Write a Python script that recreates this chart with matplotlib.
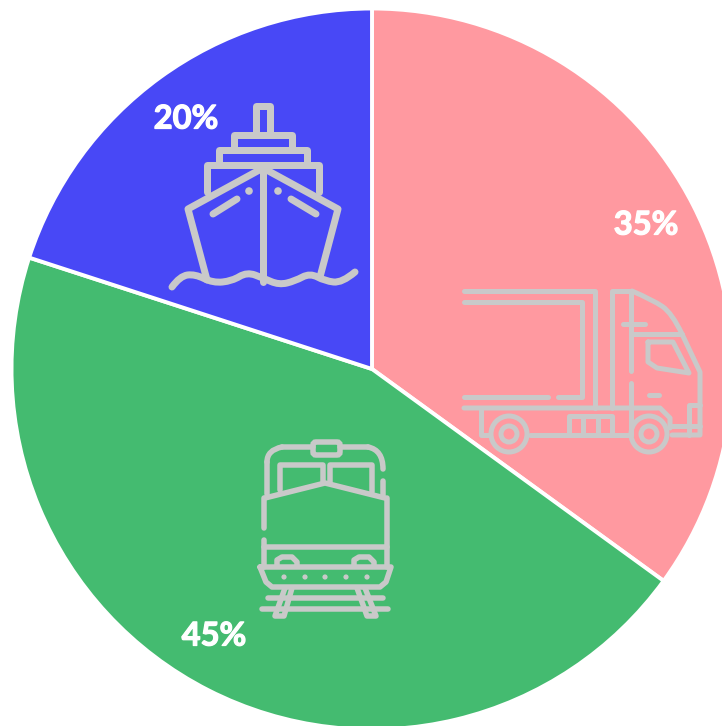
import matplotlib
matplotlib.use("Agg")
import matplotlib.pyplot as plt
from matplotlib.patches import Circle, FancyBboxPatch, PathPatch
from matplotlib.path import Path
import matplotlib.patheffects as pe

shares = [35, 45, 20]
share_labels = ["35%", "45%", "20%"]
slice_colors = ["#FF99A0", "#44BB70", "#4848F6"]

ICON_COLOR = "#C9C9C9"
WIDTH, HEIGHT = 722, 726


def stroke(ax, points, width, closed=False):
    """Straight polyline in pixel coordinates (y goes down)."""
    xs = [p[0] for p in points]
    ys = [p[1] for p in points]
    if closed:
        xs.append(xs[0])
        ys.append(ys[0])
    ax.plot(xs, ys, color=ICON_COLOR, lw=width * 0.72, solid_capstyle="round",
            solid_joinstyle="round")


def curve(ax, points, width):
    """Smooth line through the midpoints of the given control points."""
    verts = [points[0]]
    codes = [Path.MOVETO]
    for i in range(1, len(points) - 1):
        end = points[i + 1]
        if i < len(points) - 2:
            end = ((points[i][0] + points[i + 1][0]) / 2, (points[i][1] + points[i + 1][1]) / 2)
        verts += [points[i], end]
        codes += [Path.CURVE3, Path.CURVE3]
    ax.add_patch(PathPatch(Path(verts, codes), fill=False, edgecolor=ICON_COLOR,
                           lw=width * 0.72, capstyle="round", joinstyle="round"))


def dot(ax, x, y, radius):
    ax.add_patch(Circle((x, y), radius, color=ICON_COLOR, lw=0))


def ring(ax, x, y, radius, width):
    ax.add_patch(Circle((x, y), radius, fill=False, edgecolor=ICON_COLOR, lw=width * 0.72))


def draw_ship(ax):
    w = 7
    stroke(ax, [(256, 133), (256, 106), (270, 106), (270, 133)], w)
    stroke(ax, [(234, 150), (234, 135), (292, 135), (292, 150)], w)
    stroke(ax, [(219, 165), (219, 150), (307, 150), (307, 165)], w)
    stroke(ax, [(207, 192), (207, 165), (319, 165), (319, 192)], w)
    stroke(ax, [(207, 280), (188, 209), (263, 168), (338, 209), (320, 277)], w)
    stroke(ax, [(263, 168), (263, 282)], w)
    dot(ax, 249, 191, 3.8)
    dot(ax, 278, 191, 3.8)
    stroke(ax, [(213, 214), (237, 199)], w)
    stroke(ax, [(291, 199), (316, 214)], w)
    curve(ax, [(172, 287), (180, 276), (195, 274), (213, 283), (232, 281), (247, 272),
               (263, 278), (279, 285), (295, 281), (310, 273), (325, 281), (342, 283),
               (355, 272)], w)


def draw_truck(ax):
    w = 5
    stroke(ax, [(464, 291), (595, 291), (595, 408)], w)
    stroke(ax, [(464, 302), (582, 302), (582, 397), (558, 397)], w)
    stroke(ax, [(464, 397), (548, 397)], w)
    stroke(ax, [(464, 408), (660, 408), (670, 418), (670, 428)], w)
    stroke(ax, [(481, 408), (481, 435), (490, 435)], w)
    stroke(ax, [(530, 435), (631, 435)], w)
    stroke(ax, [(569, 435), (569, 416), (612, 416), (612, 435)], w)
    stroke(ax, [(583, 416), (583, 435)], w)
    stroke(ax, [(598, 416), (598, 435)], w)
    stroke(ax, [(612, 408), (612, 291), (632, 291)], w)
    curve(ax, [(632, 291), (653, 300), (672, 313), (682, 334)], w)
    stroke(ax, [(682, 334), (700, 372), (700, 435), (672, 435)], w)
    stroke(ax, [(631, 291), (631, 371)], w)
    stroke(ax, [(631, 383), (631, 435)], w)
    stroke(ax, [(623, 324), (645, 324)], w)
    stroke(ax, [(631, 334), (682, 334)], w)
    stroke(ax, [(648, 342), (673, 342), (689, 373), (657, 368), (648, 362)], w, closed=True)
    stroke(ax, [(649, 395), (659, 395)], w)
    stroke(ax, [(700, 405), (689, 405), (689, 435)], w)
    stroke(ax, [(672, 426), (700, 426)], w)
    for x in [509, 649]:
        ring(ax, x, 434, 18, w)
        ring(ax, x, 434, 8, w)


def draw_train(ax):
    w = 5.5
    ax.add_patch(FancyBboxPatch((313, 442), 27, 13, boxstyle="round,pad=0,rounding_size=3",
                                fill=False, edgecolor=ICON_COLOR, lw=w * 0.72))
    stroke(ax, [(340, 447), (368, 447)], w)
    curve(ax, [(368, 447), (383, 450), (383, 469)], w)
    stroke(ax, [(313, 447), (282, 447)], w)
    curve(ax, [(282, 447), (267, 450), (267, 462)], w)
    stroke(ax, [(267, 462), (267, 494)], w)
    stroke(ax, [(383, 481), (383, 495)], w)
    stroke(ax, [(280, 490), (280, 465), (323, 465), (323, 482)], w)
    stroke(ax, [(330, 482), (330, 465), (372, 465), (372, 492)], w)
    stroke(ax, [(265, 498), (325, 483), (385, 498)], w)
    stroke(ax, [(264, 528), (264, 498)], w)
    stroke(ax, [(264, 540), (264, 567)], w)
    stroke(ax, [(387, 498), (387, 567)], w)
    stroke(ax, [(264, 547), (387, 547)], w)
    stroke(ax, [(277, 566), (277, 560), (282, 557), (292, 557), (297, 562), (297, 566)], w)
    stroke(ax, [(354, 566), (354, 560), (359, 557), (369, 557), (374, 562), (374, 566)], w)
    stroke(ax, [(260, 567), (391, 567), (386, 582), (380, 587), (272, 587), (266, 582)], w,
           closed=True)
    for x in [284, 305, 325, 346, 367]:
        dot(ax, x, 577, 2.6)
    stroke(ax, [(268, 598), (383, 598)], w)
    stroke(ax, [(262, 609), (388, 609)], w)
    stroke(ax, [(285, 588), (275, 616), (284, 616), (292, 588)], w)
    stroke(ax, [(357, 588), (367, 616), (376, 616), (365, 588)], w)


fig = plt.figure(figsize=(WIDTH / 100, HEIGHT / 100), dpi=100, facecolor="white")

# the pie runs off the right and bottom edges, so the axes are set in pixels
ax = fig.add_axes([0, 0, 1, 1])
ax.pie(shares, colors=slice_colors, startangle=90, counterclock=False,
       center=(372, HEIGHT - 369), radius=360.5,
       wedgeprops={"edgecolor": "white", "linewidth": 2.8})
ax.set_xlim(0, WIDTH)
ax.set_ylim(0, HEIGHT)
ax.set_aspect("equal")
ax.axis("off")

overlay = fig.add_axes([0, 0, 1, 1])
overlay.set_xlim(0, WIDTH)
overlay.set_ylim(HEIGHT, 0)
overlay.axis("off")
overlay.patch.set_alpha(0)

draw_ship(overlay)
draw_truck(overlay)
draw_train(overlay)

label_positions = [(646, 225), (214, 636), (186, 119)]
for label, (x, y) in zip(share_labels, label_positions):
    txt = overlay.text(x, y, label, color="white", fontsize=23.5, fontweight="bold",
                       family="Lato", ha="center", va="center")
    txt.set_path_effects([pe.withStroke(linewidth=0.9, foreground="white")])

fig.savefig("out.png", dpi=100)
plt.close(fig)
